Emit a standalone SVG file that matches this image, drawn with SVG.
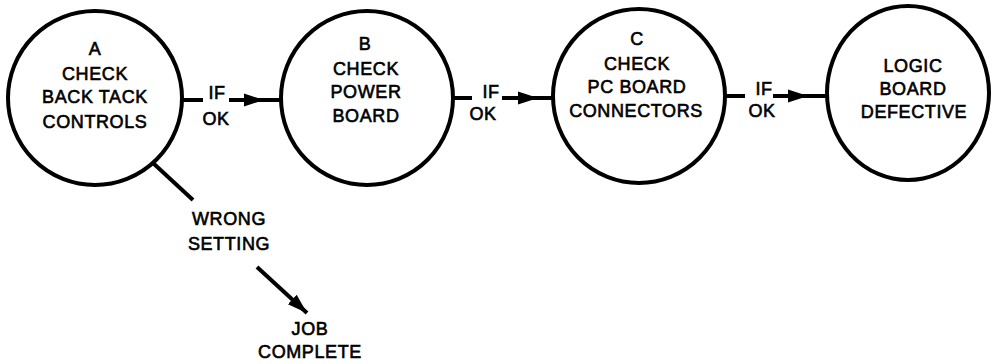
<svg xmlns="http://www.w3.org/2000/svg" width="992" height="364" viewBox="0 0 992 364">
<defs>
<marker id="ah" markerUnits="userSpaceOnUse" markerWidth="22" markerHeight="16" viewBox="0 -8 22 16" refX="20" refY="0" orient="auto">
<path d="M0,-6.5 L20,0 L0,6.5 Z" fill="#000"/>
</marker>
</defs>
<style>
.node{fill:#fff;stroke:#000;stroke-width:4}
.t{font-family:"Liberation Sans",Arial,sans-serif;font-size:18px;fill:#000;stroke:#000;stroke-width:0.6px;text-anchor:middle;letter-spacing:0.6px}
.c{fill:none;stroke:#000;stroke-width:4}
</style>
<rect width="992" height="364" fill="#fff"/>
<g id="connectors">
<line class="c" x1="183" y1="100" x2="203" y2="100"/>
<path class="c" d="M229,100 L264,100 L282,100" marker-mid="url(#ah)"/>
<line class="c" x1="452" y1="98" x2="472" y2="98"/>
<path class="c" d="M502,98 L538,98 L554,98" marker-mid="url(#ah)"/>
<line class="c" x1="725" y1="96" x2="745" y2="96"/>
<path class="c" d="M773,96 L808,96 L827,96" marker-mid="url(#ah)"/>
<line class="c" x1="153" y1="163" x2="193" y2="200"/>
<path class="c" d="M257,267 L307,313" marker-end="url(#ah)"/>
<text class="t" x="217" y="99">IF</text>
<text class="t" x="216" y="125">OK</text>
<text class="t" x="491" y="98">IF</text>
<text class="t" x="483" y="120">OK</text>
<text class="t" x="764" y="95">IF</text>
<text class="t" x="762" y="117">OK</text>
</g>
<g id="nodeA">
<circle class="node" cx="95" cy="98" r="87"/>
<text class="t" x="95" y="55">A</text>
<text class="t" x="95" y="80">CHECK</text>
<text class="t" x="95" y="103">BACK TACK</text>
<text class="t" x="95" y="128">CONTROLS</text>
</g>
<g id="nodeB">
<ellipse class="node" cx="367" cy="98" rx="86" ry="87"/>
<text class="t" x="365" y="50">B</text>
<text class="t" x="366" y="75">CHECK</text>
<text class="t" x="366" y="98">POWER</text>
<text class="t" x="366" y="122">BOARD</text>
</g>
<g id="nodeC">
<ellipse class="node" cx="639" cy="96" rx="86" ry="87"/>
<text class="t" x="637" y="45">C</text>
<text class="t" x="637" y="70">CHECK</text>
<text class="t" x="637" y="93">PC BOARD</text>
<text class="t" x="636" y="117">CONNECTORS</text>
</g>
<g id="nodeD">
<ellipse class="node" cx="908" cy="93" rx="81" ry="87"/>
<text class="t" x="913" y="72">LOGIC</text>
<text class="t" x="913" y="95">BOARD</text>
<text class="t" x="914" y="118">DEFECTIVE</text>
</g>
<g id="nodeWrong">
<text class="t" x="229" y="225">WRONG</text>
<text class="t" x="229" y="250">SETTING</text>
</g>
<g id="nodeJob">
<text class="t" x="310" y="335">JOB</text>
<text class="t" x="310" y="358">COMPLETE</text>
</g>
</svg>
